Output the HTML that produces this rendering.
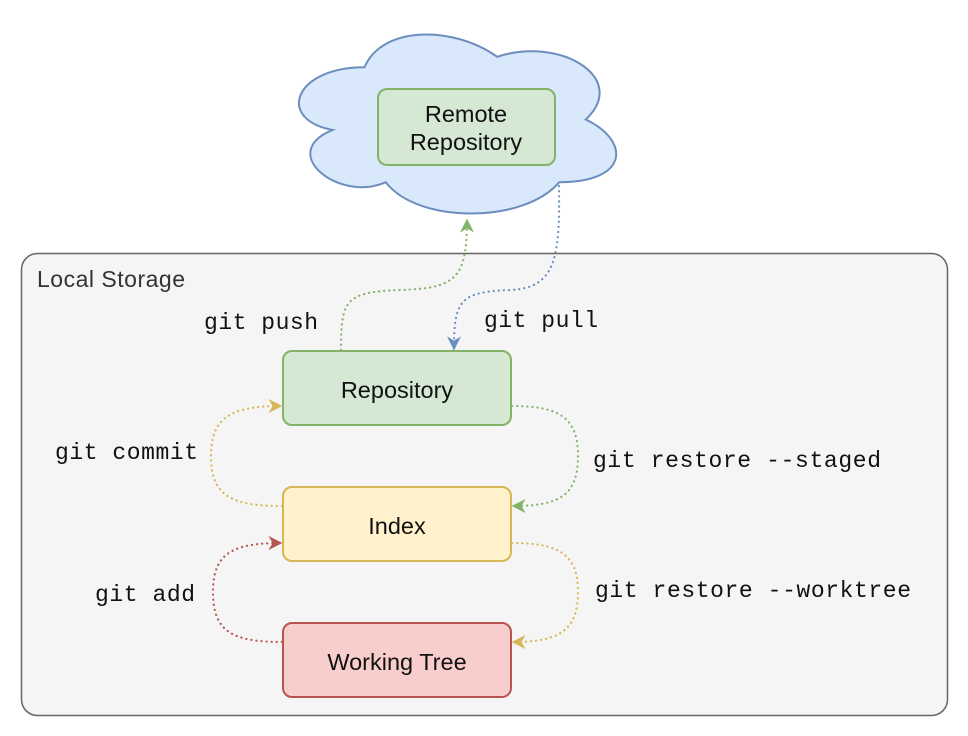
<!DOCTYPE html>
<html><head><meta charset="utf-8"><style>
body{margin:0;background:#fff;}
svg{display:block}
.m{font-family:"Liberation Mono",monospace;font-size:23px;fill:#111}
.s{font-family:"Liberation Sans",sans-serif;font-size:23.5px;fill:#111;text-anchor:middle}
</style></head><body>
<svg width="968" height="736" viewBox="0 0 968 736">
<defs>
<marker id="ag" viewBox="0 0 10 10" refX="9" refY="5" markerWidth="14" markerHeight="14" orient="auto" markerUnits="userSpaceOnUse"><path d="M0,0 L10,5 L0,10 L3,5 Z" fill="#82b366"/></marker>
<marker id="ab" viewBox="0 0 10 10" refX="9" refY="5" markerWidth="14" markerHeight="14" orient="auto" markerUnits="userSpaceOnUse"><path d="M0,0 L10,5 L0,10 L3,5 Z" fill="#6c8ebf"/></marker>
<marker id="ay" viewBox="0 0 10 10" refX="9" refY="5" markerWidth="14" markerHeight="14" orient="auto" markerUnits="userSpaceOnUse"><path d="M0,0 L10,5 L0,10 L3,5 Z" fill="#d6b656"/></marker>
<marker id="ar" viewBox="0 0 10 10" refX="9" refY="5" markerWidth="14" markerHeight="14" orient="auto" markerUnits="userSpaceOnUse"><path d="M0,0 L10,5 L0,10 L3,5 Z" fill="#b85450"/></marker>
</defs>
<rect x="21.5" y="253.5" width="926" height="462" rx="16" fill="#f5f5f5" stroke="#666" stroke-width="1.5"/>
<text x="37" y="287" font-family="Liberation Sans, sans-serif" font-size="23" fill="#333" textLength="148">Local Storage</text>
<path transform="translate(276,15) scale(354,209)" vector-effect="non-scaling-stroke" d="M.25 .25 C.05 .25 0 .5 .16 .55 C0 .66 .18 .9 .31 .8 C.4 1 .7 1 .8 .8 C1 .8 1 .6 .875 .5 C1 .3 .8 .1 .625 .2 C.5 .05 .3 .05 .25 .25 Z" fill="#dae8fc" stroke="#6c8ebf" stroke-width="2"/>
<rect x="378" y="89" width="177" height="76" rx="9" fill="#d5e8d4" stroke="#82b366" stroke-width="2"/>
<text class="s" x="466" y="122">Remote</text>
<text class="s" x="466" y="150">Repository</text>
<g fill="none" stroke-width="2.2" stroke-dasharray="0.1 5" stroke-linecap="round">
<path d="M341 350 C341 300 345 292 400 290 C455 288 467 280 467 220" stroke="#82b366" marker-end="url(#ag)"/>
<path d="M559 186 C560 260 555 288 510 290 C460 292 454 300 454 349" stroke="#6c8ebf" marker-end="url(#ab)"/>
<path d="M282 506 C230 506 211 495 211 456 C211 418 230 406 281 406" stroke="#d6b656" marker-end="url(#ay)"/>
<path d="M512 406 C560 406 578 418 578 456 C578 495 560 506 513 506" stroke="#82b366" marker-end="url(#ag)"/>
<path d="M282 642 C230 642 213 630 213 592 C213 555 230 543 281 543" stroke="#b85450" marker-end="url(#ar)"/>
<path d="M512 543 C560 543 578 555 578 592 C578 630 560 642 513 642" stroke="#d6b656" marker-end="url(#ay)"/>
</g>
<rect x="283" y="351" width="228" height="74" rx="9" fill="#d5e8d4" stroke="#82b366" stroke-width="2"/>
<text class="s" x="397" y="398">Repository</text>
<rect x="283" y="487" width="228" height="74" rx="9" fill="#fff2cc" stroke="#d6b656" stroke-width="2"/>
<text class="s" x="397" y="534">Index</text>
<rect x="283" y="623" width="228" height="74" rx="9" fill="#f8cecc" stroke="#b85450" stroke-width="2"/>
<text class="s" x="397" y="670">Working Tree</text>
<text class="m" x="204" y="329" textLength="114">git push</text>
<text class="m" x="484" y="327" textLength="114">git pull</text>
<text class="m" x="55" y="459" textLength="143">git commit</text>
<text class="m" x="593" y="467" textLength="288">git restore --staged</text>
<text class="m" x="95" y="601" textLength="100">git add</text>
<text class="m" x="595" y="597" textLength="316">git restore --worktree</text>
</svg>
</body></html>
